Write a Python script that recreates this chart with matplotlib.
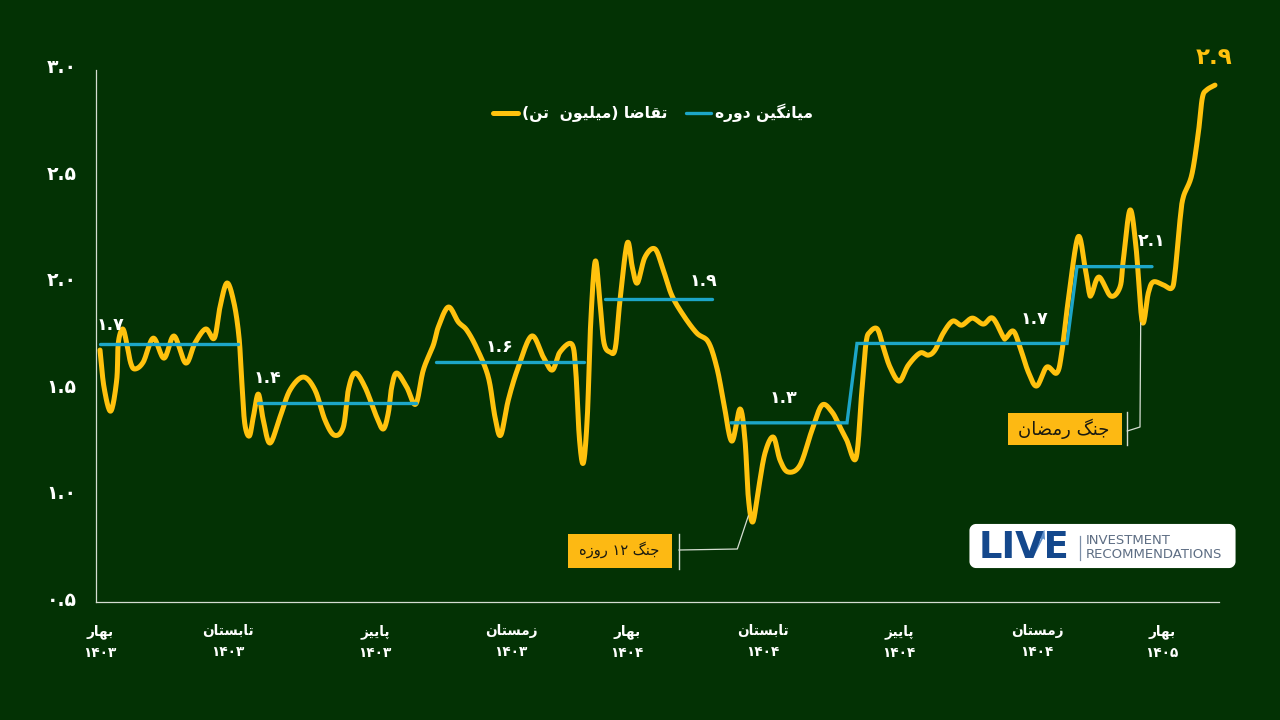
import re
import numpy as np
import matplotlib
matplotlib.use("Agg")
import matplotlib.pyplot as plt
from matplotlib.lines import Line2D
from matplotlib.patches import FancyBboxPatch, Rectangle, Polygon
from matplotlib.transforms import ScaledTranslation

plt.rcParams['font.family'] = ['DejaVu Sans']

# ---- data (x in weeks since the start of 1403, y in million tonnes) ----
weeks = [0.0, 0.4, 1.07, 1.67, 1.83, 2.27, 2.67, 3.07, 3.5, 4.33, 5.33, 6.4, 7.4, 8.57, 9.5, 10.57, 11.43, 12.0, 12.7, 13.4,
         13.9, 14.17, 14.47, 14.93, 15.33, 15.83, 16.33, 17.0, 18.0, 19.0, 20.33, 21.5, 22.5, 23.43, 24.33, 24.83, 25.5, 26.5, 27.67, 28.33,
         28.83, 29.17, 29.67, 30.67, 31.57, 32.33, 33.33, 33.83, 34.83, 35.83, 36.67, 37.67, 38.83, 39.5, 40.07, 40.83, 41.83, 43.17, 44.33, 45.23,
         46.0, 47.17, 47.57, 47.93, 48.33, 48.73, 49.07, 49.53, 50.0, 50.4, 51.0, 51.53, 52.0, 52.73, 53.23, 53.73, 54.5, 55.5, 56.33, 57.17,
         58.33, 59.67, 60.83, 61.67, 62.33, 63.17, 64.0, 64.5, 64.83, 65.27, 65.83, 66.5, 67.33, 68.0, 68.8, 70.0, 71.2, 72.2, 73.2, 74.0,
         74.67, 75.6, 76.17, 76.6, 77.0, 77.73, 78.33, 79.0, 79.93, 80.83, 82.0, 82.83, 83.5, 84.33, 85.27, 86.17, 87.23, 88.33, 89.27, 90.33,
         90.57, 91.33, 92.0, 92.83, 93.67, 94.67, 95.67, 96.17, 96.83, 97.8, 98.5, 98.93, 99.17, 99.9, 101.07, 102.0, 102.33, 103.0, 103.6, 104.23,
         104.83, 105.33, 106.33, 107.17, 107.5, 108.0, 108.33, 109.17, 109.83, 110.23, 110.67, 111.5]
demand = [1.684, 1.510, 1.397, 1.543, 1.717, 1.783, 1.717, 1.623, 1.595, 1.628, 1.740, 1.646, 1.750, 1.623, 1.717, 1.783, 1.740, 1.886, 1.999, 1.905,
          1.745, 1.543, 1.341, 1.280, 1.369, 1.477, 1.355, 1.247, 1.369, 1.496, 1.557, 1.496, 1.355, 1.284, 1.322, 1.496, 1.576, 1.510, 1.369, 1.313,
          1.388, 1.510, 1.576, 1.510, 1.430, 1.590, 1.707, 1.792, 1.886, 1.816, 1.778, 1.693, 1.557, 1.369, 1.284, 1.449, 1.604, 1.750, 1.651, 1.590,
          1.675, 1.712, 1.590, 1.275, 1.153, 1.369, 1.811, 2.102, 1.905, 1.717, 1.675, 1.693, 1.919, 2.187, 2.074, 1.999, 2.121, 2.159, 2.060, 1.942,
          1.848, 1.764, 1.722, 1.604, 1.449, 1.256, 1.407, 1.261, 0.993, 0.876, 1.026, 1.200, 1.275, 1.167, 1.111, 1.143, 1.308, 1.425, 1.393, 1.322,
          1.261, 1.176, 1.482, 1.717, 1.769, 1.783, 1.698, 1.604, 1.538, 1.613, 1.670, 1.660, 1.684, 1.764, 1.820, 1.801, 1.834, 1.806, 1.834, 1.745,
          1.740, 1.773, 1.698, 1.581, 1.515, 1.604, 1.576, 1.670, 1.919, 2.215, 2.074, 1.952, 1.947, 2.027, 1.938, 1.980, 2.107, 2.342, 2.168, 1.816,
          1.952, 2.004, 1.990, 1.975, 2.046, 2.295, 2.403, 2.506, 2.704, 2.868, 2.906, 2.929]

avg_start = [0.0, 15.8, 33.6, 50.5, 63.1, 75.7, 97.7]
avg_end = [13.8, 31.6, 48.4, 61.2, 74.7, 96.7, 105.2]
avg_value = [1.712, 1.433, 1.626, 1.924, 1.342, 1.715, 2.076]
avg_joined = [False, False, False, False, True, True]  # period joined to the next one

label_weeks = [1.0, 16.7, 39.9, 60.3, 68.3, 93.4, 105.2]
label_values = [1.802, 1.552, 1.698, 2.008, 1.458, 1.83, 2.196]
label_texts = ['۱.۷', '۱.۴', '۱.۶', '۱.۹', '۱.۳', '۱.۷', '۲.۱']
last_week, last_value, last_text = 111.4, 3.061, '۲.۹'

ytick_values = [0.5, 1.0, 1.5, 2.0, 2.5, 3.0]
ytick_labels = ['۰.۵', '۱.۰', '۱.۵', '۲.۰', '۲.۵', '۳.۰']
xtick_weeks = [0, 12.8, 27.5, 41.1, 52.7, 66.3, 79.9, 93.7, 106.2]
xtick_seasons = ['بهار', 'تابستان', 'پاییز', 'زمستان', 'بهار', 'تابستان', 'پاییز', 'زمستان', 'بهار']
xtick_years = ['۱۴۰۳', '۱۴۰۳', '۱۴۰۳', '۱۴۰۳', '۱۴۰۴', '۱۴۰۴', '۱۴۰۴', '۱۴۰۴', '۱۴۰۵']

legend_demand = 'تقاضا (میلیون  تن)'
legend_avg = 'میانگین دوره'
event_a = 'جنگ ۱۲ روزه'
event_b = 'جنگ رمضان'

# ---- colours ----
BG = '#033204'
YELLOW = '#FFC20E'
BLUE = '#1DA6C8'
AXIS = '#D5DDD2'
BOX = '#FDB913'
NAVY = '#14488C'


# ---- Arabic-script shaping (matplotlib has no text shaping of its own) ----
def _f(base):
    return tuple(chr(base + i) for i in range(4))


FORMS = {'ب': _f(0xFE8F), 'ت': _f(0xFE95), 'س': _f(0xFEB1), 'ن': _f(0xFEE5), 'ه': _f(0xFEE9),
         'پ': _f(0xFB56), 'ی': _f(0xFBFC), 'م': _f(0xFEE1), 'ق': _f(0xFED5), 'ض': _f(0xFEBD),
         'ل': _f(0xFEDD), 'گ': _f(0xFB92), 'ج': _f(0xFE9D)}
RIGHT_ONLY = {'ا': 0xFE8D, 'د': 0xFEA9, 'ر': 0xFEAD, 'ز': 0xFEAF, 'و': 0xFEED}


def fa(s):
    out = []
    for i, c in enumerate(s):
        prev = s[i - 1] if i else ''
        nxt = s[i + 1] if i + 1 < len(s) else ''
        after_join = prev in FORMS
        if c in RIGHT_ONLY:
            out.append(chr(RIGHT_ONLY[c] + (1 if after_join else 0)))
        elif c in FORMS:
            before_join = nxt in FORMS or nxt in RIGHT_ONLY
            k = {(0, 0): 0, (1, 0): 1, (0, 1): 2, (1, 1): 3}[(int(after_join), int(before_join))]
            out.append(FORMS[c][k])
        else:
            out.append({'(': ')', ')': '('}.get(c, c))
    vis = ''.join(reversed(out))
    return re.sub('[۰-۹.]+', lambda m: m.group(0)[::-1], vis)


def smooth(x, y, n=14):
    """Smoothed display path through the points, like a spreadsheet's smoothed line."""
    p = np.column_stack([x, y]).astype(float)
    m = np.zeros_like(p)
    m[1:-1] = (p[2:] - p[:-2]) / 2
    m[0] = p[1] - p[0]
    m[-1] = p[-1] - p[-2]
    t = np.linspace(0, 1, n, endpoint=False)[:, None]
    h00, h10, h01, h11 = 2*t**3 - 3*t**2 + 1, t**3 - 2*t**2 + t, -2*t**3 + 3*t**2, t**3 - t**2
    seg = [h00*p[i] + h10*m[i] + h01*p[i+1] + h11*m[i+1] for i in range(len(p) - 1)]
    q = np.vstack(seg + [p[-1:]])
    return q[:, 0], q[:, 1]


# ---- figure ----
fig = plt.figure(figsize=(12.8, 7.2), dpi=100, facecolor=BG)
ax = fig.add_axes([96/1280, 1 - 602/720, (1219 - 96)/1280, (602 - 70)/720], facecolor=BG)
ax.set_xlim(-0.4, 111.9)
ax.set_ylim(0.5, 3.0)
for s in ('top', 'right'):
    ax.spines[s].set_visible(False)
for s in ('left', 'bottom'):
    ax.spines[s].set_color(AXIS)
    ax.spines[s].set_linewidth(0.9)

sx, sy = smooth(weeks, demand)
line_d, = ax.plot(sx, sy, color=YELLOW, lw=3.6, solid_capstyle='round', solid_joinstyle='round', zorder=3, clip_on=False)

# period averages: a run of joined periods is one stepped line
runs, cur = [], [0]
for i in range(1, len(avg_value)):
    if avg_joined[i - 1]:
        cur.append(i)
    else:
        runs.append(cur)
        cur = [i]
runs.append(cur)
for r in runs:
    xs, ys = [], []
    for i in r:
        xs += [avg_start[i], avg_end[i]]
        ys += [avg_value[i], avg_value[i]]
    line_a, = ax.plot(xs, ys, color=BLUE, lw=2.4, solid_capstyle='round', solid_joinstyle='miter', zorder=4)

ax.set_yticks(ytick_values)
ax.set_yticklabels(ytick_labels, fontsize=13.5, fontweight='bold', color='white')
ax.tick_params(axis='y', length=0, pad=14)
off = ScaledTranslation(0, 4/100, fig.dpi_scale_trans)
for t in ax.get_yticklabels():
    t.set_transform(t.get_transform() + off)
ax.set_xticks(xtick_weeks)
ax.set_xticklabels([fa(a) + '\n' + b for a, b in zip(xtick_seasons, xtick_years)],
                   fontsize=9.8, fontweight='bold', color='white', linespacing=1.62)
ax.tick_params(axis='x', length=0, pad=16)

for w, v, t in zip(label_weeks, label_values, label_texts):
    ax.text(w, v, t, color='white', fontsize=12.5, fontweight='bold', ha='center', va='center', zorder=5)
ax.text(last_week, last_value, last_text, color=YELLOW, fontsize=16.5, fontweight='bold',
        ha='center', va='center', clip_on=False, zorder=5)

leg = ax.legend([Line2D([], [], color=YELLOW, lw=3.6, solid_capstyle='round'),
                 Line2D([], [], color=BLUE, lw=2.4, solid_capstyle='round')],
                [fa(legend_demand), fa(legend_avg)], ncol=2, frameon=False,
                loc='center', bbox_to_anchor=((653 - 96)/1123, (602 - 113)/532),
                handlelength=1.6, handletextpad=0.25, columnspacing=1.2, borderpad=0,
                prop={'size': 11.2, 'weight': 'bold'})
for t in leg.get_texts():
    t.set_color('white')

# ---- decorations in pixel coordinates ----
ov = fig.add_axes([0, 0, 1, 1], facecolor='none', zorder=10)
ov.set_xlim(0, 1280)
ov.set_ylim(720, 0)
ov.axis('off')

# event boxes
ov.add_patch(Rectangle((567.7, 534), 104.6, 34, fc=BOX, ec='none'))
ov.text(619, 550, fa(event_a), color='#1a1a10', fontsize=10.5, ha='center', va='center')
ov.plot([679, 679], [534, 569], color=AXIS, lw=1)
ov.plot([679, 737.3, 748.3], [550, 549, 516], color=AXIS, lw=0.9)

ov.add_patch(Rectangle((1008, 412.7), 113.7, 32.3, fc=BOX, ec='none'))
ov.text(1064, 428.5, fa(event_b), color='#1a1a10', fontsize=13, ha='center', va='center')
ov.plot([1127.3, 1127.3], [412, 445], color=AXIS, lw=1)
ov.plot([1127.3, 1140, 1140.7], [431, 427, 323], color=AXIS, lw=0.9)

# logo
ov.add_patch(FancyBboxPatch((975, 529.5), 255, 33, boxstyle='round,pad=0,rounding_size=1', fc='white', ec='white', lw=8, joinstyle='round'))
ov.text(1024, 548, 'LIVE', color=NAVY, fontsize=26.5, fontweight='bold', ha='center', va='center')
ov.add_patch(Polygon([(1030, 556), (1041, 539), (1038, 536), (1044.5, 530), (1045, 540), (1043, 538.5), (1034, 556)], fc='#5F8FC8', ec='none'))
ov.plot([1080, 1080], [536, 560], color='#7C8FA8', lw=0.9)
ov.text(1086, 540, 'INVESTMENT', color='#5E6E84', fontsize=9.5, ha='left', va='center')
ov.text(1086, 555, 'RECOMMENDATIONS', color='#5E6E84', fontsize=9.5, ha='left', va='center')

fig.savefig('out.png', dpi=100, facecolor=BG)
